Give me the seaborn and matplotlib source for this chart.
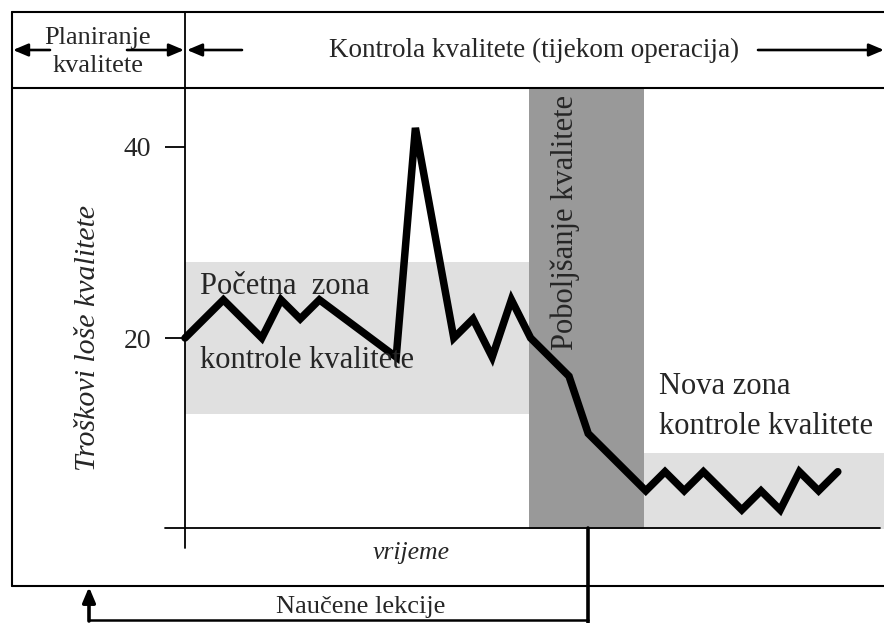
import numpy as np
import pandas as pd
import matplotlib
matplotlib.use("Agg")
import matplotlib.pyplot as plt
import seaborn as sns

sns.set_style("white")
plt.rcParams['font.family'] = ['Liberation Serif', 'DejaVu Serif']

# podaci - troškovi loše kvalitete kroz vrijeme
vrijeme = [0, 2, 4, 5, 6, 7, 11, 12, 14, 15, 16, 17, 18,
           20, 21, 24, 25, 26, 27, 29, 30, 31, 32, 33, 34]
troskovi = [20, 24, 20, 24, 22, 24, 18, 42, 20, 22, 18, 24, 20,
            16, 10, 4, 6, 4, 6, 2, 4, 2, 6, 4, 6]
df = pd.DataFrame({'vrijeme': vrijeme, 'troskovi': troskovi})

# zone (pocetak, kraj, donja, gornja granica)
zona_od = [0, 17.92, 23.9]
zona_do = [17.92, 23.9, 36.41]
zona_dolje = [12, 0, 0]
zona_gore = [28, 46.2, 8]
zona_boja = ['#e0e0e0', '#999999', '#e0e0e0']

y_ticks = [20, 40]

W, H = 884, 623
fig = plt.figure(figsize=(W / 100, H / 100), dpi=100)

# podrucje grafa u pikselima: x 185..884, y 88..529
ax = fig.add_axes([185 / W, (H - 529) / H, (W - 185) / W, (529 - 88) / H], zorder=1)
ax.set_xlim(0, (W - 185) / 19.2)
ax.set_ylim(0, (529 - 88) / 9.55)
ax.patch.set_alpha(0)
for s in ax.spines.values():
    s.set_visible(False)

for x0, x1, y0, y1, c in zip(zona_od, zona_do, zona_dolje, zona_gore, zona_boja):
    ax.fill_between([x0, x1], y0, y1, color=c, lw=0, zorder=0)

sns.lineplot(data=df, x='vrijeme', y='troskovi', ax=ax, color='black', lw=5.4,
             solid_joinstyle='miter', zorder=3, clip_on=False)

ax.set_xticks([])
ax.set_yticks(y_ticks)
ax.set_yticklabels([str(v) for v in y_ticks], fontsize=20)
ax.tick_params(axis='y', direction='out', length=14.5, width=1.3, pad=10,
               left=True, color='black')
ax.set_xlabel('')
ax.set_ylabel('')

# okvir dijagrama u pikselima
fr = fig.add_axes([0, 0, 1, 1], zorder=2)
fr.set_xlim(0, W)
fr.set_ylim(H, 0)
fr.axis('off')
fr.patch.set_alpha(0)

lw_box = 1.5
fr.plot([12, 12], [12, 586], color='black', lw=lw_box)
fr.plot([12, W], [12, 12], color='black', lw=lw_box)
fr.plot([12, W], [586, 586], color='black', lw=lw_box)
fr.plot([12, W], [88, 88], color='black', lw=lw_box)
fr.plot([185, 185], [12, 548], color='black', lw=1.3)
fr.plot([165, 880], [528, 528], color='black', lw=1.3)

arr = dict(arrowstyle='-|>,head_length=0.9,head_width=0.38', color='black',
           lw=1.9, shrinkA=0, shrinkB=0)
fr.annotate('', xy=(13, 50), xytext=(50, 50), arrowprops=arr)
fr.annotate('', xy=(184, 50), xytext=(127, 50), arrowprops=arr)
fr.annotate('', xy=(187, 50), xytext=(242, 50), arrowprops=arr)
fr.annotate('', xy=(W, 50), xytext=(758, 50), arrowprops=arr)

fr.text(98, 52, 'Planiranje\nkvalitete', ha='center', va='center', fontsize=19,
        linespacing=1.32)
fr.text(534, 50, 'Kontrola kvalitete (tijekom operacija)', ha='center', va='center',
        fontsize=19.5)

fr.text(88, 338, 'Troškovi loše kvalitete', rotation=90, ha='center', va='center',
        fontsize=21.5, style='italic')
fr.text(411, 553, 'vrijeme', ha='center', va='center', fontsize=18.5, style='italic')

fr.text(200, 286, 'Početna  zona', ha='left', va='center', fontsize=22)
fr.text(200, 360, 'kontrole kvalitete', ha='left', va='center', fontsize=22)
fr.text(565, 222, 'Poboljšanje kvalitete', rotation=90, ha='center', va='center',
        fontsize=22)
fr.text(659, 386, 'Nova zona', ha='left', va='center', fontsize=22)
fr.text(659, 426, 'kontrole kvalitete', ha='left', va='center', fontsize=22)

# naucene lekcije
fr.plot([588, 588], [528, H], color='black', lw=2.6)
fr.plot([89, 588], [620, 620], color='black', lw=1.8)
fr.annotate('', xy=(89, 587), xytext=(89, 621), arrowprops=dict(
    arrowstyle='-|>,head_length=0.9,head_width=0.38', color='black', lw=2.6,
    shrinkA=0, shrinkB=0))
fr.text(361, 607, 'Naučene lekcije', ha='center', va='center', fontsize=19)

fig.savefig('out.png', dpi=100, facecolor='white')
